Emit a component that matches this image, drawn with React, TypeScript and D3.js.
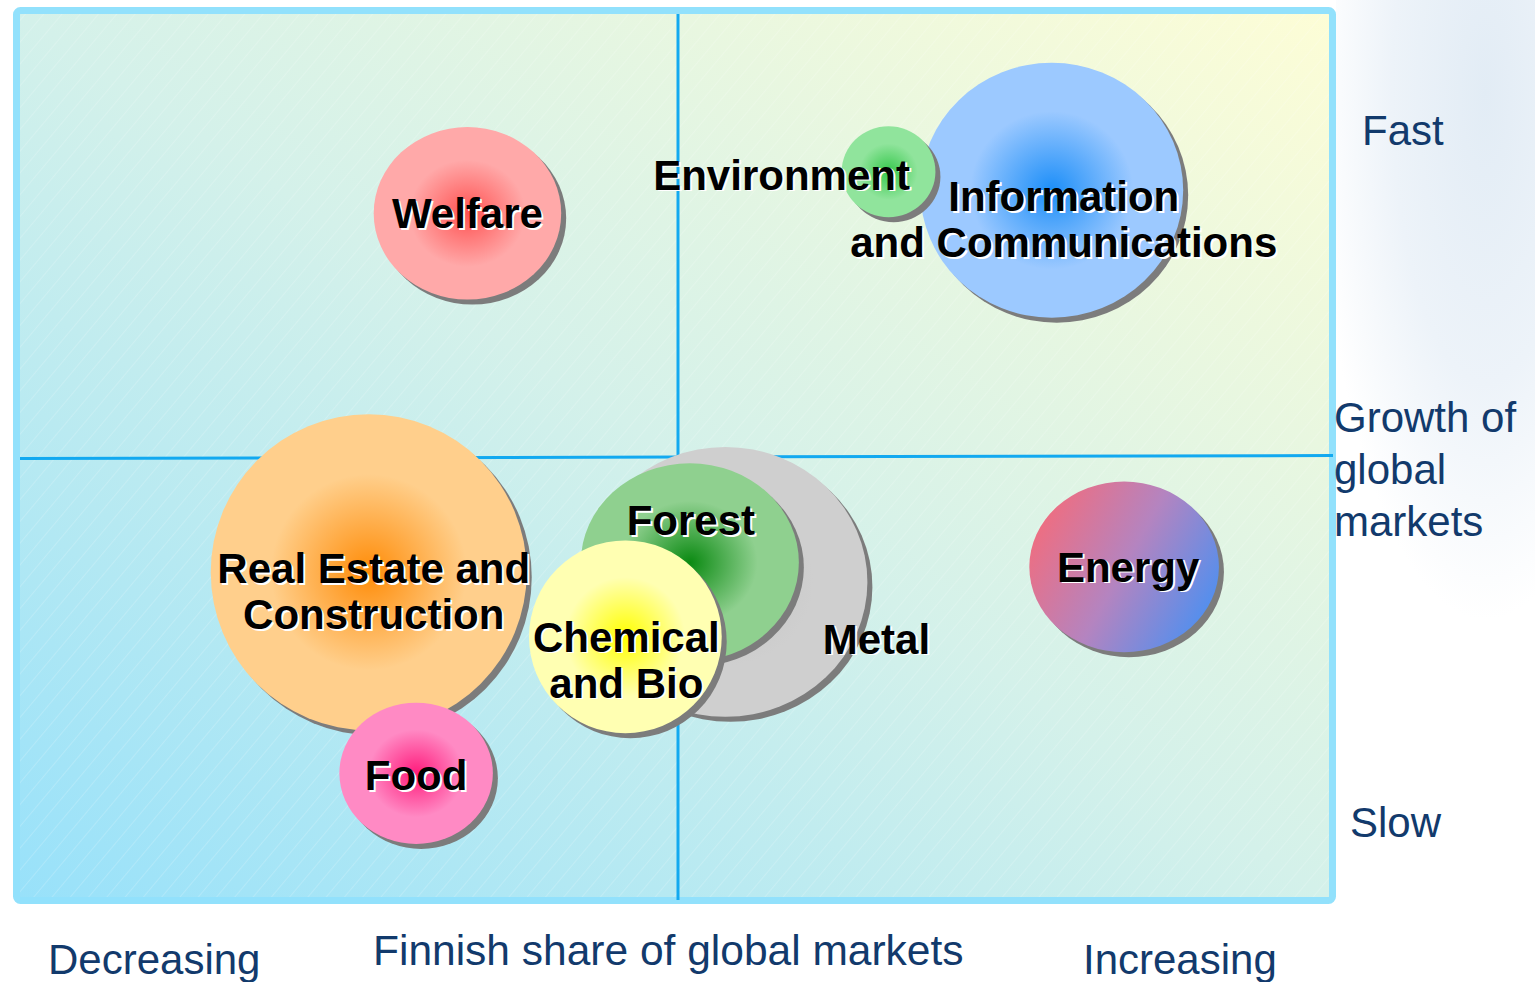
import React from 'react';
import * as d3 from 'd3';

// bubble data: Finnish share (0-10), growth of global markets (0-10), size
const sectors = [
  'Welfare',
  'Information and Communications',
  'Environment',
  'Real Estate and Construction',
  'Food',
  'Metal',
  'Forest',
  'Chemical and Bio',
  'Energy',
];
const shareValues = [3.4, 7.84, 6.6, 2.65, 3.01, 5.36, 5.09, 4.6, 8.39];
const growthValues = [7.75, 8.01, 8.22, 3.7, 1.43, 3.59, 3.81, 2.97, 3.76];
const sizeValues = [88, 173, 22, 250, 59, 202, 119, 93, 90];
const labelLines = [
  ['Welfare'],
  ['Information', 'and Communications'],
  ['Environment'],
  ['Real Estate and', 'Construction'],
  ['Food'],
  ['Metal'],
  ['Forest'],
  ['Chemical', 'and Bio'],
  ['Energy'],
];

const yAxisLabels = ['Fast', 'Slow'];
const yAxisTitle = ['Growth of', 'global', 'markets'];
const xAxisLabels = ['Decreasing', 'Increasing'];
const xAxisTitle = 'Finnish share of global markets';

// look of each bubble, keyed by sector
const looks: Record<string, { inner: string; outer: string; aspect: number; dx: number; dy: number }> = {
  Welfare: { inner: '#ff5252', outer: '#ffa9a9', aspect: 0.92, dx: 0, dy: 15 },
  'Information and Communications': { inner: '#1c8ef8', outer: '#9cc9ff', aspect: 0.97, dx: 12, dy: 21 },
  Environment: { inner: '#36c84c', outer: '#90e49c', aspect: 0.97, dx: -107, dy: 18 },
  'Real Estate and Construction': { inner: '#ff8c08', outer: '#ffcf8c', aspect: 1, dx: 5, dy: 11 },
  Food: { inner: '#ff1c7c', outer: '#ff8ac4', aspect: 0.92, dx: 0, dy: 17 },
  Metal: { inner: '#c4c4c4', outer: '#cfcfcf', aspect: 0.95, dx: 151, dy: 72 },
  Forest: { inner: '#0b8a12', outer: '#8fd08f', aspect: 0.91, dx: 1, dy: -27 },
  'Chemical and Bio': { inner: '#ffff00', outer: '#ffffb2', aspect: 1, dx: 1, dy: 15 },
  Energy: { inner: '', outer: '', aspect: 0.9, dx: 4, dy: 15 },
};

const W = 1535;
const H = 982;
const navy = '#123a6c';
const font = 'Arial, "Liberation Sans", Helvetica, sans-serif';

export default function App() {
  const x = d3.scaleLinear().domain([0, 10]).range([20, 1336]);
  const y = d3.scaleLinear().domain([0, 10]).range([900, 14]);
  const r = d3.scaleSqrt().domain([0, 250]).range([0, 158]);

  const bubbles = sectors.map((name, i) => ({
    name,
    id: 'g' + i,
    cx: x(shareValues[i]),
    cy: y(growthValues[i]),
    rad: r(sizeValues[i]),
    lines: labelLines[i],
    look: looks[name],
  }));

  return (
    <div style={{ position: 'absolute', left: 0, top: 0 }}>
      <svg width={W} height={H} style={{ display: 'block', background: '#fff' }}>
        <defs>
          <radialGradient id="sky" cx="0.75" cy="0.15" r="0.85">
            <stop offset="0" stopColor="#e2ecf5" />
            <stop offset="0.55" stopColor="#edf3f9" />
            <stop offset="1" stopColor="#ffffff" />
          </radialGradient>
          <linearGradient id="plotBg" x1="1" y1="0" x2="0" y2="1">
            <stop offset="0" stopColor="#fdfdd6" />
            <stop offset="0.5" stopColor="#d4f1ea" />
            <stop offset="1" stopColor="#98e1fa" />
          </linearGradient>
          <pattern id="hatch" width="14" height="14" patternUnits="userSpaceOnUse" patternTransform="rotate(40)">
            <line x1="0" y1="0" x2="0" y2="14" stroke="#ffffff" strokeWidth="1" strokeOpacity="0.35" />
          </pattern>
          <linearGradient id="energyGrad" x1="0" y1="0.25" x2="1" y2="0.75">
            <stop offset="0" stopColor="#f36c7c" />
            <stop offset="0.5" stopColor="#b484c0" />
            <stop offset="1" stopColor="#4a90f2" />
          </linearGradient>
          {bubbles
            .filter((b) => b.name !== 'Energy')
            .map((b) => (
              <radialGradient key={b.id} id={b.id} cx="0.5" cy="0.5" r="0.5">
                <stop offset="0" stopColor={b.look.inner} />
                <stop offset="0.62" stopColor={b.look.outer} />
                <stop offset="1" stopColor={b.look.outer} />
              </radialGradient>
            ))}
        </defs>

        <rect x={1336} y={0} width={W - 1336} height={620} fill="url(#sky)" />

        {/* plot area */}
        <rect x={16.5} y={10.5} width={1316} height={890} fill="url(#plotBg)" />
        <rect x={16.5} y={10.5} width={1316} height={890} fill="url(#hatch)" />
        <rect x={16.5} y={10.5} width={1316} height={890} rx={4} fill="none" stroke="#92e1fc" strokeWidth={7} />

        {/* quadrant lines */}
        <line x1={x(0)} x2={x(10) - 3} y1={y(5) + 1.5} y2={y(5) - 1.5} stroke="#12a9f0" strokeWidth={3} />
        <line x1={x(5)} x2={x(5)} y1={y(10)} y2={y(0)} stroke="#12a9f0" strokeWidth={3} />

        {/* bubbles */}
        {bubbles.map((b) => (
          <g key={b.id}>
            <ellipse cx={b.cx + 5} cy={b.cy + 5} rx={b.rad} ry={b.rad * b.look.aspect} fill="#7c7c7c" />
            <ellipse
              cx={b.cx}
              cy={b.cy}
              rx={b.rad}
              ry={b.rad * b.look.aspect}
              fill={b.name === 'Energy' ? 'url(#energyGrad)' : `url(#${b.id})`}
            />
          </g>
        ))}

        {/* bubble labels */}
        {bubbles.map((b) =>
          b.lines.map((line, j) => {
            const tx = b.cx + b.look.dx;
            const ty = b.cy + b.look.dy + j * 46;
            return (
              <g key={b.id + j} fontFamily={font} fontWeight="bold" fontSize={42} textAnchor="middle">
                <text x={tx + 2} y={ty + 1.5} fill="#ffffff">
                  {line}
                </text>
                <text x={tx} y={ty} fill="#000000">
                  {line}
                </text>
              </g>
            );
          })
        )}

        {/* axis texts */}
        <g fontFamily={font} fontSize={42} fill={navy}>
          <text x={1362} y={145}>{yAxisLabels[0]}</text>
          {yAxisTitle.map((t, i) => (
            <text key={t} x={1334} y={432 + i * 52}>
              {t}
            </text>
          ))}
          <text x={1350} y={837}>{yAxisLabels[1]}</text>
          <text x={48} y={974}>{xAxisLabels[0]}</text>
          <text x={373} y={965} fontSize={42.5}>{xAxisTitle}</text>
          <text x={1083} y={974}>{xAxisLabels[1]}</text>
        </g>
      </svg>
    </div>
  );
}
